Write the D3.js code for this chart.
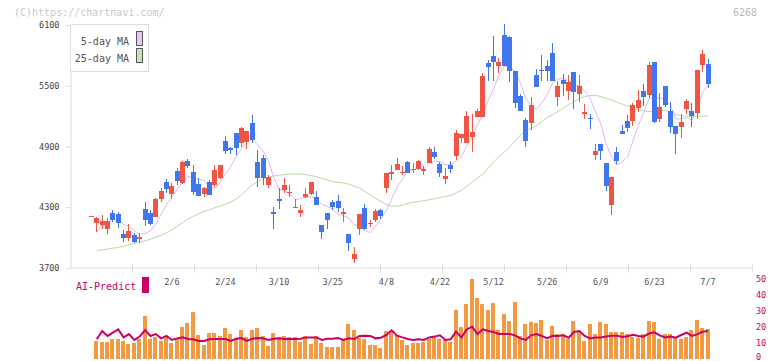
<!DOCTYPE html>
<html>
<head>
<meta charset="utf-8">
<script src="https://cdn.jsdelivr.net/npm/d3@7"></script>
<style>
  body { margin: 0; background: #fff; }
  svg { display: block; }
  text { font-family: "DejaVu Sans Mono", monospace; }
</style>
</head>
<body>
<svg id="chart" width="772" height="361"></svg>
<script>
// daily prices, index 0 = first candle on the left
const opens = [4210, 4149, 4125, 4085, 4240, 4233, 4036, 4000, 4026, 3990,
  4283, 4243, 4204, 4384, 4549, 4434, 4658, 4539, 4757, 4648,
  4530, 4434, 4549, 4520, 4589, 4954, 4888, 5033, 4937, 4947,
  5135, 4747, 4783, 4523, 4253, 4381, 4473, 4448, 4300, 4246,
  4401, 4428, 4401, 4125, 4243, 4355, 4362, 4230, 4036, 3789,
  4088, 4293, 4131, 4174, 4273, 4493, 4631, 4668, 4641, 4744,
  4668, 4678, 4661, 4740, 4846, 4727, 4579, 4720, 4809, 4981,
  4937, 4997, 5194, 5194, 5728, 5794, 5698, 6001, 5981, 5646,
  5399, 5162, 5129, 5606, 5656, 5695, 5826, 5392, 5557, 5451,
  5639, 5418, 5221, 5182, 4816, 4925, 4737, 4322, 4843, 5053,
  5152, 5152, 5277, 5448, 5409, 5732, 5172, 5498, 5251, 5102,
  5096, 5270, 5251, 5234, 5705, 5715];
const highs = [4210, 4207, 4223, 4191, 4273, 4250, 4072, 4131, 4043, 4043,
  4352, 4270, 4394, 4487, 4579, 4536, 4685, 4757, 4776, 4717,
  4592, 4503, 4569, 4717, 4717, 5004, 4898, 5033, 5093, 5053,
  5211, 4865, 4816, 4618, 4305, 4493, 4589, 4520, 4381, 4322,
  4490, 4549, 4460, 4125, 4243, 4372, 4421, 4290, 4036, 3907,
  4233, 4332, 4174, 4280, 4283, 4638, 4714, 4783, 4710, 4757,
  4734, 4767, 4710, 4898, 4898, 4750, 4684, 4760, 5063, 5023,
  5251, 5221, 5267, 5623, 5754, 5994, 5771, 6110, 5994, 5646,
  5422, 5185, 5386, 5662, 5804, 5754, 5919, 5547, 5616, 5606,
  5639, 5606, 5320, 5221, 4925, 4925, 4737, 4599, 4892, 5112,
  5211, 5327, 5458, 5514, 5735, 5732, 5425, 5498, 5336, 5102,
  5218, 5369, 5327, 5656, 5853, 5760];
const lows = [4210, 4058, 4085, 4036, 4157, 4098, 3960, 3970, 3950, 3950,
  4118, 4125, 4204, 4355, 4438, 4381, 4520, 4527, 4685, 4421,
  4411, 4404, 4421, 4503, 4579, 4826, 4826, 4816, 4898, 4872,
  4932, 4503, 4520, 4493, 4085, 4283, 4444, 4404, 4290, 4204,
  4394, 4418, 4325, 3986, 4085, 4273, 4250, 4157, 3871, 3752,
  4029, 4075, 4105, 4157, 4184, 4441, 4569, 4668, 4618, 4635,
  4635, 4668, 4618, 4734, 4773, 4602, 4527, 4641, 4767, 4932,
  4932, 4849, 5194, 5188, 5547, 5547, 5623, 5698, 5540, 5277,
  5251, 4898, 5063, 5491, 5547, 5547, 5547, 5300, 5399, 5359,
  5270, 5343, 5172, 5073, 4767, 4767, 4463, 4223, 4727, 5027,
  5046, 5102, 5244, 5303, 5376, 5135, 5139, 5287, 5036, 4830,
  4987, 5218, 5096, 5169, 5639, 5481];
const closes = [4210, 4198, 4164, 4164, 4174, 4147, 4000, 4065, 3960, 4003,
  4174, 4134, 4381, 4460, 4480, 4513, 4559, 4747, 4710, 4454,
  4414, 4490, 4421, 4668, 4717, 4855, 4862, 4888, 5083, 5053,
  4964, 4589, 4589, 4599, 4230, 4365, 4520, 4451, 4307, 4273,
  4434, 4549, 4325, 4058, 4174, 4305, 4296, 4250, 3950, 3838,
  4233, 4082, 4144, 4263, 4214, 4638, 4651, 4727, 4651, 4641,
  4678, 4757, 4678, 4875, 4796, 4641, 4612, 4681, 5036, 5023,
  5201, 5046, 5254, 5596, 5688, 5738, 5738, 5698, 5646, 5327,
  5254, 4957, 5310, 5491, 5646, 5646, 5547, 5498, 5517, 5537,
  5441, 5498, 5241, 5172, 4855, 4855, 4513, 4599, 4760, 5027,
  5086, 5310, 5359, 5392, 5705, 5145, 5290, 5310, 5096, 5023,
  5142, 5349, 5201, 5656, 5811, 5520];
// closes of the three days before the first candle (for the 5-day average)
const priorCloses = [3830, 4040, 4015];

// 25-day moving average as drawn
const ma25 = [null, 3872, 3878, 3887, 3896, 3904, 3914, 3928, 3942, 3956,
  3969, 3984, 4004, 4024, 4050, 4076, 4112, 4147, 4183, 4212,
  4236, 4260, 4274, 4295, 4311, 4329, 4352, 4381, 4421, 4475,
  4520, 4554, 4579, 4596, 4609, 4616, 4622, 4628, 4628, 4628,
  4622, 4613, 4602, 4586, 4569, 4553, 4547, 4539, 4528, 4508,
  4489, 4456, 4424, 4389, 4355, 4326, 4312, 4312, 4320, 4338,
  4349, 4356, 4365, 4374, 4384, 4396, 4408, 4418, 4441, 4468,
  4507, 4547, 4588, 4627, 4687, 4748, 4800, 4845, 4896, 4954,
  5013, 5051, 5079, 5103, 5148, 5186, 5213, 5245, 5280, 5312,
  5344, 5372, 5393, 5403, 5406, 5393, 5377, 5359, 5338, 5319,
  5299, 5279, 5265, 5252, 5244, 5248, 5251, 5258, 5241, 5216,
  5205, 5198, 5194, 5197, 5199, 5201];

// lower panel
const volumes = [null, 11.5, 10.8, 10.8, 12.5, 12.5, 11.5, 9.6, 10, 12.5,
  26.9, 12.5, 13.5, 11.5, 13.5, 10, 12.5, 20, 22.7, 29.4,
  15, 9, 16.5, 16.5, 14.4, 19.4, 15.6, 12.5, 18.3, 13.5,
  18.3, 19.4, 14.4, 8.3, 16.5, 13.5, 14.4, 13.5, 13.5, 10.8,
  14.4, 9.4, 14.4, 10, 7.5, 7.5, 7.5, 12.5, 21.9, 17.9,
  13.3, 12.5, 8.8, 8.8, 6.9, 17.5, 17.5, 15, 11.9, 8.8,
  10, 10, 10.8, 12.5, 13.5, 12.5, 11.9, 10.8, 30.6, 20,
  34.4, 50, 38.1, 34.4, 30.6, 35, 18.1, 28.1, 23.8, 35.6,
  14.4, 21.9, 23.1, 22.5, 24.4, 11.9, 20.6, 15.4, 15.4, 12.5,
  23.8, 17.5, 11.3, 21.9, 15.6, 23.1, 21.9, 16.9, 16.9, 16.9,
  15.6, 14, 13.1, 15.6, 23.5, 23.1, 12.5, 15.6, 15.6, 14,
  12.5, 14, 18.1, 24.4, 19.4, 18.8];
const aiPredict = [null, 12.3, 17.5, 14.4, 16.5, 18.5, 13.5, 15.6, 11.9, 14,
  18.1, 14.4, 15.6, 12.9, 14.4, 11.9, 12.9, 13.5, 12.5, 12.3,
  11.3, 11.3, 12.3, 12.5, 12.5, 12.5, 11.3, 12.7, 13.1, 11.3,
  12.7, 13.1, 12.9, 11.9, 12.7, 12.9, 12.5, 12.5, 12.5, 12.7,
  13.5, 13.5, 13.5, 11.9, 12.7, 12.7, 13.1, 11.9, 12.9, 12.5,
  14.4, 14.6, 14.4, 12.9, 13.3, 15, 17.9, 14.6, 13.5, 12.5,
  11.9, 12.3, 11.9, 13.5, 14, 14.8, 11.9, 12.3, 17.1, 13.5,
  18.5, 20.2, 15.6, 18.5, 17.5, 16.9, 15.6, 15.6, 15.6, 14.8,
  12.9, 11.9, 14.8, 15.6, 14.4, 12.9, 14.6, 14.4, 14.8, 13.3,
  16.9, 17.5, 14.4, 12.9, 13.5, 13.5, 14, 14.6, 14.6, 13.8,
  14.2, 15.2, 14.4, 14, 16, 16.7, 14.8, 13.5, 14, 13.3,
  15, 16.5, 14.4, 15.4, 17.1, 17.5];

const dateLabels = ['2/6', '2/24', '3/10', '3/25', '4/8', '4/22', '5/12', '5/26', '6/9', '6/23', '7/7'];
const dateIndex = [15, 25, 35, 45, 55, 65, 75, 85, 95, 105, 115];
const priceTicks = [3700, 4300, 4900, 5500, 6100];
const volTicks = [0, 10, 20, 30, 40, 50];

const RED = '#f25444';
const BLUE = '#4177ee';
const MAGENTA = '#cc0066';

const svg = d3.select('#chart');
svg.append('rect').attr('width', 772).attr('height', 361).attr('fill', '#fff');

const x = d3.scaleLinear().domain([-4, 123.2]).range([70, 752]);
const y = d3.scaleLinear().domain([3700, 6100]).range([268, 25]);
const yv = d3.scaleLinear().domain([0, 50]).range([359, 279]);
const xGrid = d3.scaleLinear().domain([0, 11]).range([70, 752]);

// header texts
svg.append('text').attr('x', 14).attr('y', 16).attr('font-size', 10)
  .attr('fill', '#c8c8c8').text('(C)https://chartnavi.com/');
svg.append('text').attr('x', 757).attr('y', 16).attr('font-size', 10)
  .attr('text-anchor', 'end').attr('fill', '#b8b8b8').text('6268');

// price axis
const yAxis = svg.append('g')
  .attr('transform', 'translate(70.5,0)')
  .call(d3.axisLeft(y).tickValues(priceTicks).tickFormat(d3.format('d'))
    .tickSize(5).tickSizeOuter(0).tickPadding(6));
yAxis.select('.domain').attr('stroke', '#ddd');
yAxis.selectAll('.tick line').attr('stroke', '#ddd');
yAxis.selectAll('.tick text').attr('fill', '#444').attr('font-size', 8.5)
  .style('font-family', '"DejaVu Sans Mono", monospace');

// time axis
const xAxis = svg.append('g')
  .attr('transform', 'translate(0,267.5)')
  .call(d3.axisBottom(xGrid).tickValues(d3.range(1, 12)).tickSize(5).tickSizeOuter(0).tickFormat(''));
xAxis.select('.domain').attr('stroke', '#ddd');
xAxis.selectAll('.tick line').attr('stroke', '#ddd').attr('y1', -3);

svg.append('g').selectAll('text')
  .data(dateLabels)
  .join('text')
  .attr('x', (d, i) => x(dateIndex[i]))
  .attr('y', 285)
  .attr('text-anchor', 'middle')
  .attr('font-size', 8.5)
  .attr('fill', '#555')
  .text(d => d);

// moving averages
const allCloses = priorCloses.concat(closes);
const ma5 = closes.map((c, i) => {
  const k = i + priorCloses.length;
  if (i === 0 || k < 4) return null;
  return d3.mean(allCloses.slice(k - 4, k + 1));
});

const maLine = d3.line()
  .defined(d => d != null)
  .x((d, i) => x(i))
  .y(d => y(d));

svg.append('path').datum(ma25)
  .attr('d', maLine)
  .attr('fill', 'none').attr('stroke', '#b6dca4').attr('stroke-width', 1);
svg.append('path').datum(ma5)
  .attr('d', maLine)
  .attr('fill', 'none').attr('stroke', '#e8b4ea').attr('stroke-width', 1);

// candles
const candles = svg.append('g').attr('shape-rendering', 'crispEdges');
closes.forEach((c, i) => {
  const o = opens[i];
  const col = c >= o ? RED : BLUE;
  const left = Math.round(x(i) - 2.5);
  candles.append('line')
    .attr('x1', left + 2.5).attr('x2', left + 2.5)
    .attr('y1', y(highs[i])).attr('y2', y(lows[i]))
    .attr('stroke', col).attr('stroke-width', 1);
  const top = y(Math.max(o, c));
  const h = Math.max(1, y(Math.min(o, c)) - top);
  candles.append('rect')
    .attr('x', left).attr('y', top)
    .attr('width', 5).attr('height', h)
    .attr('fill', col);
});

// legend
const legend = svg.append('g').attr('shape-rendering', 'crispEdges');
legend.append('rect').attr('x', 70.5).attr('y', 24.5).attr('width', 78).attr('height', 47)
  .attr('fill', '#fff').attr('stroke', '#ddd');
const legendItems = [
  { label: '5-day MA', fill: '#f0c4f0', y: 31.5 },
  { label: '25-day MA', fill: '#c4e4b4', y: 48.5 }
];
legendItems.forEach(d => {
  legend.append('text').attr('x', 129).attr('y', d.y + 13).attr('text-anchor', 'end')
    .attr('font-size', 10).attr('fill', '#555').text(d.label);
  legend.append('rect').attr('x', 136.5).attr('y', d.y).attr('width', 6).attr('height', 14)
    .attr('fill', d.fill).attr('stroke', '#555');
});

// lower panel: volume bars and AI-Predict
svg.append('g').attr('shape-rendering', 'crispEdges').selectAll('rect')
  .data(volumes.map((v, i) => ({ v, i })).filter(d => d.v != null))
  .join('rect')
  .attr('x', d => Math.round(x(d.i) - 2.5))
  .attr('y', d => yv(d.v))
  .attr('width', 4)
  .attr('height', d => yv(0) - yv(d.v))
  .attr('fill', '#f29a42');

svg.append('path').datum(aiPredict)
  .attr('d', d3.line().defined(d => d != null).x((d, i) => x(i)).y(d => yv(d)))
  .attr('fill', 'none').attr('stroke', MAGENTA).attr('stroke-width', 2);

svg.append('g').selectAll('text')
  .data(volTicks)
  .join('text')
  .attr('x', 756)
  .attr('y', d => Math.min(yv(d) + 3, 360))
  .attr('font-size', 8.5)
  .attr('fill', MAGENTA)
  .text(d => d);

svg.append('text').attr('x', 76).attr('y', 290).attr('font-size', 10)
  .attr('fill', MAGENTA).text('AI-Predict');
svg.append('rect').attr('x', 142).attr('y', 277).attr('width', 7).attr('height', 16)
  .attr('fill', MAGENTA);
</script>
</body>
</html>
